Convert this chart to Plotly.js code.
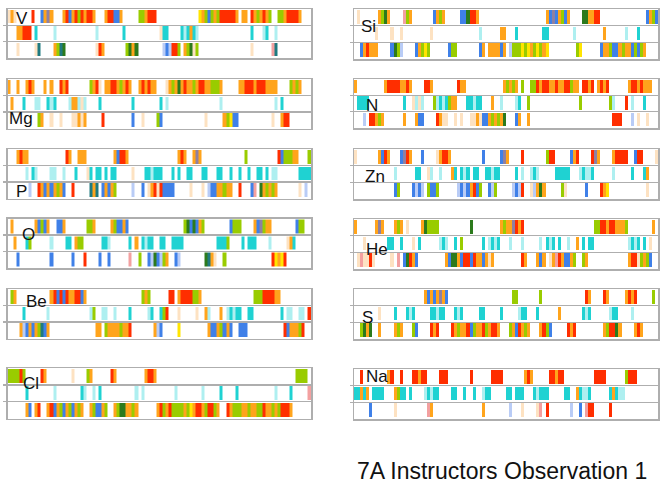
<!DOCTYPE html>
<html><head><meta charset="utf-8">
<script src="https://cdn.plot.ly/plotly-3.0.1.min.js"></script>
<style>html,body{margin:0;padding:0;background:#fff}#chart{width:667px;height:485px}</style>
</head><body><div id="chart"></div>
<script>
// colour categories of the stripes
const colorKeys = ["r","o","g","G","b","c","y","p","l","L","B","t","k"];
const colorValues = ["#ff2e00","#ffa41c","#99cc00","#2c7a1c","#3f80e8","#1fd2d2","#ffe400","#8f80a2","#fde2c2","#aeeff0","#b9ccf6","#1f7a80","#f3a0a0"];

const panelNames = ["V","Mg","P","O","Be","Cl","Si","N","Zn","He","S","Na"];
const titleText = "7A Instructors Observation 1";
const nCols = 100;

// each row: list of [start column, colour pattern]
const V_rows = [
  [[0,"lol"],[8,"r"],[11,"bopo"],[18,"orborgrorro"],[32,"orrbbo"],[43,"ggorrr"],[63,"yogbgogrrrrro"],[77,"oo"],[80,"rogorog"],[89,"ggorrrro"]],
  [[3,"oorrr"],[9,"c"],[15,"L"],[29,"L"],[38,"c"],[50,"lcc"],[57,"cLcoc"],[62,"L"],[80,"c"],[84,"Lc"],[88,"L"]],
  [[3,"l"],[9,"lt"],[15,"ogtG"],[29,"lro"],[39,"gGoG"],[51,"BbBrrg"],[58,"ogGlg"],[80,"l"],[87,"kt"]]
];
const Mg_rows = [
  [[0,"o"],[3,"o"],[6,"oro"],[12,"o"],[14,"o"],[17,"ror"],[27,"gorl"],[32,"oorrogoro"],[43,"ororoo"],[52,"l"],[53,"ogoGoroogorroogggo"],[76,"oorrrorrroooo"],[93,"gogo"]],
  [[1,"o"],[5,"c"],[9,"LL"],[13,"cLc"],[20,"Loo"],[23,"LlL"],[30,"c"],[41,"c"],[50,"c"],[52,"L"],[70,"L"],[88,"L"],[90,"c"]],
  [[10,"go"],[14,"l"],[17,"l"],[21,"llolo"],[31,"r"],[41,"b"],[44,"l"],[49,"gb"],[65,"l"],[71,"ogybb"],[87,"l"],[90,"orr"]]
];
const P_rows = [
  [[3,"oroo"],[19,"ro"],[23,"ooo"],[35,"obrro"],[56,"oro"],[61,"opo"],[78,"g"],[89,"rbgggoo"],[99,"g"]],
  [[6,"L"],[8,"cL"],[14,"LL"],[18,"L"],[22,"c"],[26,"lc"],[29,"cc"],[32,"c"],[34,"cc"],[41,"l"],[45,"ccLccc"],[54,"c"],[56,"c"],[59,"cc"],[64,"cc"],[69,"cc"],[73,"c"],[76,"c"],[79,"c"],[82,"cc"],[85,"c"],[87,"LL"],[96,"cccc"]],
  [[7,"B"],[10,"robobogob"],[21,"r"],[27,"tot"],[31,"bobog"],[41,"B"],[44,"b"],[46,"lorlrbbbb"],[60,"l"],[64,"l"],[66,"Bbbo"],[70,"ogoo"],[76,"r"],[80,"bk"],[83,"Go"],[85,"gogo"],[96,"l"],[98,"B"]]
];
const O_rows = [
  [[1,"o"],[9,"obgbo"],[16,"bbo"],[26,"ggo"],[34,"ogbbob"],[58,"gGbGbog"],[73,"bggg"],[81,"obpgoo"],[95,"bgg"]],
  [[2,"o"],[6,"cg"],[14,"L"],[19,"cc"],[22,"ogg"],[31,"ccL"],[40,"c"],[42,"o"],[44,"cLcc"],[50,"cc"],[54,"cccc"],[69,"cccg"],[77,"c"],[79,"ccc"],[86,"L"],[92,"loc"]],
  [[3,"b"],[14,"b"],[21,"b"],[25,"r"],[30,"b"],[33,"b"],[40,"k"],[43,"g"],[46,"bBGbBgo"],[55,"bB"],[65,"Gtol"],[71,"g"],[87,"ryoyr"]]
];
const Be_rows = [
  [[1,"go"],[14,"orbrbroorrbo"],[44,"gog"],[53,"rr"],[56,"orrrrggo"],[81,"gggrrrroo"]],
  [[5,"c"],[13,"L"],[27,"Lg"],[31,"LL"],[35,"L"],[40,"c"],[46,"Lc"],[50,"cgr"],[56,"l"],[62,"l"],[65,"oL"],[70,"o"],[72,"LcLcc"],[79,"cc"],[90,"c"],[92,"LL"],[96,"LL"],[99,"r"]],
  [[4,"o"],[5,"Bbobogtbo"],[29,"oo"],[32,"goooogoor"],[48,"oBb"],[56,"y"],[66,"obbogbob"],[76,"bbb"],[91,"rbooogr"]]
];
const Cl_rows = [
  [[0,"ggggrg"],[11,"ro"],[21,"l"],[26,"go"],[34,"ro"],[45,"orro"],[95,"gggg"]],
  [[6,"c"],[15,"L"],[24,"cL"],[28,"L"],[30,"c"],[42,"L"],[44,"L"],[55,"L"],[64,"L"],[70,"c"],[75,"c"],[88,"L"],[93,"c"],[99,"k"]],
  [[6,"ob"],[9,"or"],[13,"orbogbogbogo"],[27,"ogbbog"],[35,"ogGGoogo"],[49,"orgorgg"],[56,"ggogyorrogrrgo"],[72,"rogggoogooggroogogrrro"]]
];
const Si_rows = [
  [[1,"l"],[8,"ogGo"],[16,"kgo"],[26,"bogo"],[35,"bbGrro"],[63,"obpbogbo"],[75,"GGoorr"],[96,"bogb"]],
  [[7,"l"],[12,"l"],[15,"l"],[25,"l"],[41,"L"],[48,"oo"],[53,"c"],[62,"cc"],[72,"L"],[82,"o"],[89,"L"],[93,"c"]],
  [[2,"borooo"],[12,"bGgB"],[20,"bogyg"],[31,"bgg"],[41,"bo"],[44,"oooobo"],[51,"Bgggygyogygoy"],[73,"gy"],[81,"boogbbogoobgbgo"]]
];
const N_rows = [
  [[0,"o"],[10,"orrrro"],[16,"oro"],[23,"rro"],[34,"roo"],[49,"ogogo"],[55,"g"],[58,"ggrorrooroorrgoo"],[75,"rror"],[80,"oror"],[90,"orrorooo"]],
  [[1,"cccc"],[16,"c"],[19,"lLl"],[22,"L"],[26,"gLcLcgoo"],[37,"ccLcc"],[45,"o"],[48,"L"],[53,"Lc"],[57,"g"],[74,"g"],[84,"gL"],[89,"r"],[91,"L"],[95,"c"]],
  [[3,"B"],[5,"rrogo"],[16,"o"],[20,"obb"],[27,"roll"],[33,"l"],[35,"l"],[38,"llol"],[42,"bbog"],[46,"ogoG"],[53,"bo"],[57,"o"],[85,"rrr"],[91,"B"],[93,"l"],[96,"l"]]
];
const Zn_rows = [
  [[0,"l"],[8,"obro"],[15,"bpro"],[22,"b"],[27,"lorro"],[42,"b"],[48,"bpo"],[55,"r"],[63,"grr"],[71,"bor"],[78,"rpo"],[85,"orrrr"],[92,"brr"],[99,"l"]],
  [[13,"L"],[20,"cc"],[24,"lL"],[28,"L"],[32,"oc"],[35,"cLc"],[39,"cc"],[43,"ccLcc"],[53,"c"],[55,"L"],[58,"LcL"],[66,"ccccc"],[74,"LcLLc"],[85,"L"],[91,"c"],[95,"co"]],
  [[13,"bg"],[19,"bBbB"],[24,"gbbg"],[34,"BbBborbg"],[44,"bBg"],[52,"BbBr"],[58,"lBoGo"],[68,"gl"],[76,"b"],[81,"roy"],[96,"l"]]
];
const He_rows = [
  [[0,"o"],[7,"opo"],[13,"ogo"],[17,"l"],[22,"oGgggg"],[38,"G"],[48,"ogoopror"],[79,"ggrrorrooog"],[98,"o"]],
  [[3,"l"],[11,"cc"],[15,"c"],[19,"l"],[21,"c"],[28,"LcL"],[33,"c"],[35,"g"],[42,"c"],[44,"LcLc"],[51,"L"],[55,"L"],[61,"L"],[63,"cLc"],[67,"c"],[70,"L"],[73,"o"],[75,"c"],[77,"cc"],[90,"LcLc"],[95,"c"],[97,"l"]],
  [[1,"lkllrl"],[12,"l"],[14,"k"],[16,"bGrob"],[30,"obGGobrrbroobolo"],[55,"ro"],[60,"obo"],[64,"lokrobbog"],[75,"go"],[90,"orrlgogb"]]
];
const S_rows = [
  [[23,"obobopob"],[52,"gg"],[61,"g"],[76,"ro"],[82,"ro"],[89,"oror"],[98,"g"]],
  [[8,"l"],[13,"c"],[17,"cLc"],[25,"ccLcc"],[33,"cLc"],[41,"cc"],[48,"c"],[54,"Lcc"],[60,"c"],[67,"o"],[75,"cLc"],[84,"Lcc"],[91,"L"]],
  [[2,"gGoG"],[8,"o"],[13,"ogo"],[19,"gb"],[25,"ror"],[32,"rogoorbgoorgorro"],[51,"gobrogo"],[61,"orgb"],[70,"ror"],[82,"ogrrGo"],[92,"oro"]]
];
const Na_rows = [
  [[2,"r"],[11,"or"],[15,"r"],[19,"rrorr"],[28,"rrr"],[38,"r"],[45,"rrrr"],[56,"oro"],[64,"rrorr"],[79,"rrrr"],[89,"grrr"]],
  [[0,"ccoco"],[6,"cccc"],[13,"ogcc"],[18,"c"],[23,"LcLcc"],[32,"cc"],[36,"c"],[39,"c"],[42,"Lcc"],[50,"cc"],[53,"ccc"],[59,"cLcc"],[63,"c"],[69,"cc"],[73,"ocLLc"],[84,"cocLL"]],
  [[5,"b"],[13,"l"],[24,"ko"],[42,"o"],[51,"B"],[55,"l"],[60,"lk"],[63,"r"],[71,"B"],[74,"b"],[76,"krr"],[84,"r"]]
];

const panelRows = [V_rows, Mg_rows, P_rows, O_rows, Be_rows, Cl_rows, Si_rows, N_rows, Zn_rows, He_rows, S_rows, Na_rows];

// ---- layout geometry (pixels) ----
const W = 667, H = 485;
const colX = [[7.5, 311], [354, 658]];
const panelCol = [0,0,0,0,0,0,1,1,1,1,1,1];
const panelTop = [9, 79, 149, 218.5, 289, 368, 9, 79, 149, 219, 289, 369];
const panelBottom = [58, 128.5, 198.5, 268, 338.5, 418.5, 59, 128, 199, 269, 339, 419];
const labelX = [22, 21, 21, 28, 36, 31, 368, 372, 375, 377, 367, 377];
const labelY = [18.5, 118, 192, 234, 301, 383, 26, 105, 176, 250, 317, 376];

function buildZ(rows) {
  return rows.map(segs => {
    const a = new Array(nCols).fill(null);
    segs.forEach(([s, pat]) => {
      for (let i = 0; i < pat.length; i++) {
        const k = colorKeys.indexOf(pat[i]);
        if (k >= 0 && s + i < nCols) a[s + i] = k;
      }
    });
    return a;
  });
}

const K = colorKeys.length;
const colorscale = [];
colorValues.forEach((c, i) => { colorscale.push([i / K, c]); colorscale.push([(i + 1) / K, c]); });

const xs = Array.from({length: nCols}, (_, i) => i);
const traces = [];
const layout = {
  width: W, height: H, margin: {l: 0, r: 0, t: 0, b: 0},
  paper_bgcolor: "#fff", plot_bgcolor: "#fff", showlegend: false,
  annotations: [], hovermode: false
};
const lineCol = "#aeaeae";

panelNames.forEach((name, p) => {
  const n = p === 0 ? "" : String(p + 1);
  traces.push({
    type: "heatmap", z: buildZ(panelRows[p]), x: xs, y: [0, 1, 2],
    xaxis: "x" + n, yaxis: "y" + n,
    colorscale: colorscale, zmin: -0.5, zmax: K - 0.5, showscale: false,
    ygap: 3, hoverinfo: "skip", zsmooth: false
  });
  const cx = colX[panelCol[p]];
  layout["xaxis" + n] = {
    domain: [cx[0] / W, cx[1] / W], anchor: "y" + n, range: [-0.5, nCols - 0.5],
    showgrid: false, zeroline: false, showticklabels: false, ticks: "",
    showline: true, mirror: true, linecolor: lineCol, linewidth: 1.5, fixedrange: true
  };
  layout["yaxis" + n] = {
    domain: [1 - panelBottom[p] / H, 1 - panelTop[p] / H], anchor: "x" + n,
    range: [2.5, -0.5], tickmode: "array", tickvals: [0.5, 1.5],
    showgrid: true, gridcolor: lineCol, gridwidth: 1.5, zeroline: false,
    showticklabels: false, ticks: "outside", ticklen: 3, tickcolor: lineCol, tickwidth: 1.5,
    showline: true, mirror: true, linecolor: lineCol, linewidth: 1.5, fixedrange: true
  };
  layout.annotations.push({
    text: name, xref: "paper", yref: "paper",
    x: labelX[p] / W, y: 1 - labelY[p] / H, xanchor: "center", yanchor: "middle",
    showarrow: false, font: {family: "Liberation Sans, Arial, sans-serif", size: 17, color: "#111"}
  });
});

layout.annotations.push({
  text: titleText, xref: "paper", yref: "paper", x: 355 / W, y: 1 - 471 / H,
  xanchor: "left", yanchor: "middle", showarrow: false,
  font: {family: "Liberation Sans, Arial, sans-serif", size: 23, color: "#111"}
});

Plotly.newPlot("chart", traces, layout, {staticPlot: true, displayModeBar: false});
</script>
</body></html>
